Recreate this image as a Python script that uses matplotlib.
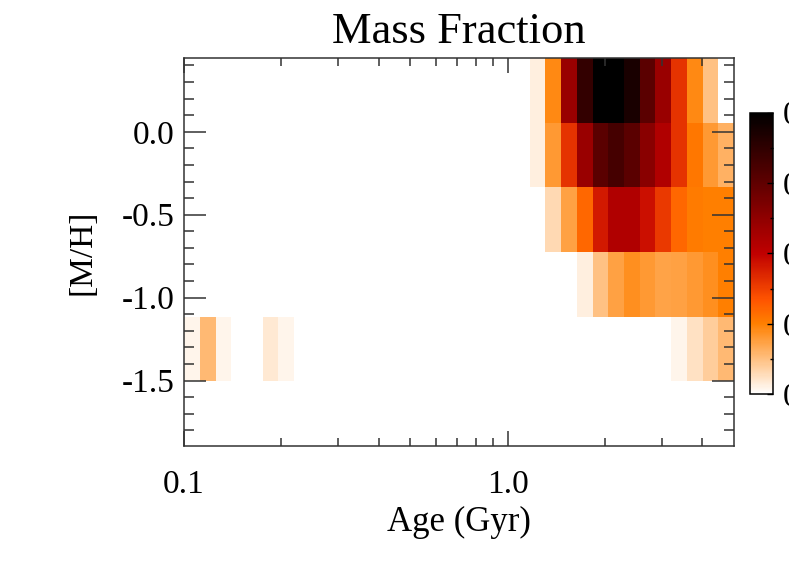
import numpy as np
import matplotlib
matplotlib.use('Agg')
import matplotlib.pyplot as plt
from matplotlib.ticker import FixedLocator, FormatStrFormatter, NullFormatter

plt.rcParams['font.family'] = ['Liberation Serif', 'DejaVu Serif']
plt.rcParams['axes.unicode_minus'] = False

# age bin centres (Gyr), log-spaced grid from 0.1 to 5 Gyr
ages = [0.1057, 0.1183, 0.1323, 0.1479, 0.1654, 0.1850, 0.2069, 0.2313,
        0.2587, 0.2893, 0.3236, 0.3619, 0.4047, 0.4525, 0.5061, 0.5659,
        0.6329, 0.7079, 0.7917, 0.8854, 0.9902, 1.107, 1.238, 1.385,
        1.549, 1.732, 1.937, 2.166, 2.423, 2.710, 3.030, 3.388, 3.789,
        4.238, 4.740]
metals = [-1.70, -1.31, -0.92, -0.53, -0.14, 0.25]

# mass fraction per row; each row is (first age bin, values)
row_m170 = (0, [])
row_m131_young = (0, [0.0023, 0.0139, 0.0023, 0.0, 0.0, 0.0045, 0.0023])
row_m131_old = (31, [0.0023, 0.0060, 0.0100, 0.0140])
row_m092 = (25, [0.0033, 0.0124, 0.0186, 0.0220, 0.0200, 0.0180, 0.0186,
                 0.0200, 0.0220, 0.0250])
row_m053 = (23, [0.0076, 0.0186, 0.0300, 0.0450, 0.0540, 0.0540, 0.0470,
                 0.0390, 0.0300, 0.0260, 0.0250, 0.0250])
row_m014 = (22, [0.0033, 0.0200, 0.0400, 0.0600, 0.0765, 0.0820, 0.0765,
                 0.0644, 0.0540, 0.0400, 0.0267, 0.0200, 0.0155])
row_p025 = (22, [0.0033, 0.0233, 0.0600, 0.0867, 0.1000, 0.1000, 0.0933,
                 0.0765, 0.0600, 0.0400, 0.0233, 0.0124])

rows = [[row_m170], [row_m131_young, row_m131_old], [row_m092], [row_m053],
        [row_m014], [row_p025]]
frac = np.zeros((len(metals), len(ages)))
for j, parts in enumerate(rows):
    for start, vals in parts:
        frac[j, start:start + len(vals)] = vals

# cell edges halfway between centres (log in age)
la = np.log10(ages)
da = la[1] - la[0]
age_edges = 10 ** np.concatenate([[la[0] - da / 2], (la[:-1] + la[1:]) / 2, [la[-1] + da / 2]])
m = np.array(metals)
dm = m[1] - m[0]
met_edges = np.concatenate([[m[0] - dm / 2], (m[:-1] + m[1:]) / 2, [m[-1] + dm / 2]])

fig = plt.figure(figsize=(7.89, 5.64), dpi=100)
ax = fig.add_axes([0.2332, 0.2092, 0.6971, 0.6880])
mesh = ax.pcolormesh(age_edges, met_edges, frac, cmap='gist_heat_r', vmin=0, vmax=0.1)
ax.set_xscale('log')
ax.set_xlim(age_edges[0], age_edges[-1])
ax.set_ylim(met_edges[0], met_edges[-1])

edge = '#333333'
for s in ax.spines.values():
    s.set_color(edge)
    s.set_linewidth(1.1)

ax.xaxis.set_major_locator(FixedLocator([0.1, 1.0]))
ax.xaxis.set_minor_locator(FixedLocator([0.2, 0.3, 0.4, 0.5, 0.6, 0.7, 0.8, 0.9, 2, 3, 4]))
ax.xaxis.set_major_formatter(FormatStrFormatter('%.1f'))
ax.xaxis.set_minor_formatter(NullFormatter())
ax.yaxis.set_major_locator(FixedLocator([0.0, -0.5, -1.0, -1.5]))
ax.yaxis.set_minor_locator(FixedLocator(np.arange(-1.8, 0.45, 0.1)))
ax.yaxis.set_major_formatter(FormatStrFormatter('%.1f'))

ax.tick_params(axis='both', which='both', direction='in', top=True, right=True,
               color=edge, width=1.1, labelsize=24)
ax.tick_params(axis='x', which='major', length=11, pad=17)
ax.tick_params(axis='x', which='minor', length=5.5)
ax.tick_params(axis='y', which='major', length=15.6, pad=6.5)
ax.tick_params(axis='y', which='minor', length=7.2)

ax.set_title('Mass Fraction', fontsize=32, pad=11)
ax.set_xlabel('Age (Gyr)', fontsize=25, labelpad=4)
ax.set_ylabel('[M/H]', fontsize=24, labelpad=18)

cax = fig.add_axes([0.9506, 0.3009, 0.0296, 0.4993])
cb = fig.colorbar(mesh, cax=cax, ticks=[0, 0.025, 0.05, 0.075, 0.1])
cb.ax.yaxis.set_minor_locator(FixedLocator([0.0125, 0.0375, 0.0625, 0.0875]))
cb.ax.set_yticklabels(['0.000', '0.025', '0.050', '0.075', '0.100'])
cb.outline.set_linewidth(1.1)
cb.ax.tick_params(which='both', direction='in', labelsize=24, width=1.0, pad=7)
cb.ax.tick_params(which='major', length=4)
cb.ax.tick_params(which='minor', length=2.5)

plt.savefig('out.png', dpi=100)
